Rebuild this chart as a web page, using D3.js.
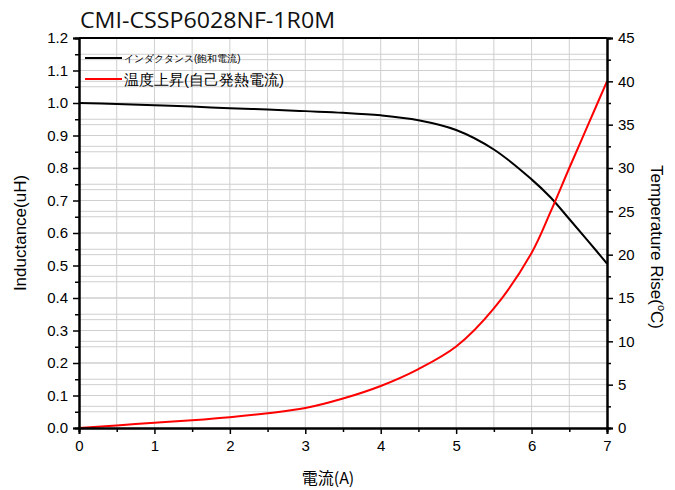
<!DOCTYPE html>
<html>
<head>
<meta charset="utf-8">
<script src="https://cdn.jsdelivr.net/npm/d3@7"></script>
<style>
  body { margin: 0; background: #fff; }
  text { font-family: "Liberation Sans", Arial, sans-serif; }
</style>
</head>
<body>
<svg width="675" height="490"></svg>
<script>
// data
const current = [0, 0.5, 1, 1.5, 2, 2.5, 3, 3.5, 4, 4.5, 5, 5.5, 6, 6.25, 6.5, 6.75, 7];
const inductance = [1.0, 0.997, 0.993, 0.989, 0.984, 0.98, 0.975, 0.97, 0.962, 0.947, 0.917, 0.857, 0.765, 0.71, 0.643, 0.575, 0.506];
const tempRise = [0, 0.3, 0.6, 0.9, 1.25, 1.7, 2.3, 3.4, 4.85, 6.8, 9.4, 13.8, 20.2, 24.9, 30.0, 35.0, 40.0];

const xTicks = [0, 1, 2, 3, 4, 5, 6, 7];
const leftTicks = [0.0, 0.1, 0.2, 0.3, 0.4, 0.5, 0.6, 0.7, 0.8, 0.9, 1.0, 1.1, 1.2];
const rightTicks = [0, 5, 10, 15, 20, 25, 30, 35, 40, 45];

const seriesNames = ['インダクタンス(飽和電流)', '温度上昇(自己発熱電流)'];

const svg = d3.select('svg');
const L = 79, R = 607, T = 38, B = 428;

// scales
const x = d3.scaleLinear().domain([0, 7]).range([L, R]);
const yL = d3.scaleLinear().domain([0, 1.2]).range([B, T]);
const yR = d3.scaleLinear().domain([0, 45]).range([B, T]);

// grid lines (both y axes get their own grid, majors + minors)
const grid = svg.append('g').attr('stroke', '#cfcfcf').attr('stroke-width', 1);
grid.selectAll('.gx').data(d3.range(0.5, 7, 0.5))
  .enter().append('line')
  .attr('x1', d => x(d)).attr('x2', d => x(d))
  .attr('y1', T).attr('y2', B);
grid.selectAll('.gl').data(d3.range(1, 24).map(i => i * 0.05))
  .enter().append('line')
  .attr('x1', L).attr('x2', R)
  .attr('y1', d => yL(d)).attr('y2', d => yL(d));
grid.selectAll('.gr').data(d3.range(1, 18).map(i => i * 2.5))
  .enter().append('line')
  .attr('x1', L).attr('x2', R)
  .attr('y1', d => yR(d)).attr('y2', d => yR(d));

// curves
const smooth = d3.curveCatmullRom.alpha(0.5);
const lineL = d3.line().x((d, i) => x(current[i])).y(d => yL(d)).curve(smooth);
const lineR = d3.line().x((d, i) => x(current[i])).y(d => yR(d)).curve(smooth);

svg.append('path').datum(inductance)
  .attr('d', lineL).attr('fill', 'none')
  .attr('stroke', '#000').attr('stroke-width', 2);

svg.append('path').datum(tempRise)
  .attr('d', lineR).attr('fill', 'none')
  .attr('stroke', '#ff0000').attr('stroke-width', 2);

// axes
function styleAxis(g) {
  g.select('.domain').attr('stroke', '#000').attr('stroke-width', 2);
  g.selectAll('.tick line').attr('stroke', '#000').attr('stroke-width', 1.5);
  g.selectAll('.tick text').attr('font-size', 15).attr('fill', '#000')
    .attr('font-family', '"Liberation Sans", Arial, sans-serif');
}

// minor ticks first
svg.append('g').attr('transform', `translate(0,${B})`)
  .call(d3.axisBottom(x).tickValues(d3.range(0.5, 7, 1)).tickSize(4).tickFormat(''))
  .call(styleAxis);
svg.append('g').attr('transform', `translate(${L},0)`)
  .call(d3.axisLeft(yL).tickValues(d3.range(0, 12).map(i => i * 0.1 + 0.05)).tickSize(4).tickFormat(''))
  .call(styleAxis);
svg.append('g').attr('transform', `translate(${R},0)`)
  .call(d3.axisRight(yR).tickValues(d3.range(0, 9).map(i => i * 5 + 2.5)).tickSize(4).tickFormat(''))
  .call(styleAxis);

svg.append('g').attr('transform', `translate(0,${B})`)
  .call(d3.axisBottom(x).tickValues(xTicks).tickSize(6).tickPadding(6).tickFormat(d3.format('d')))
  .call(styleAxis);
svg.append('g').attr('transform', `translate(${L},0)`)
  .call(d3.axisLeft(yL).tickValues(leftTicks).tickSize(6).tickPadding(5).tickFormat(d3.format('.1f')))
  .call(styleAxis);
svg.append('g').attr('transform', `translate(${R},0)`)
  .call(d3.axisRight(yR).tickValues(rightTicks).tickSize(6).tickPadding(5).tickFormat(d3.format('d')))
  .call(styleAxis);

// top frame line
svg.append('line').attr('x1', L).attr('x2', R).attr('y1', T).attr('y2', T)
  .attr('stroke', '#000').attr('stroke-width', 2);

// title
svg.append('text').attr('x', 80).attr('y', 28)
  .attr('font-size', 21).attr('fill', '#111')
  .attr('textLength', 255).attr('lengthAdjust', 'spacingAndGlyphs')
  .style('font-family', '"Open Sans", sans-serif')
  .text('CMI-CSSP6028NF-1R0M');

// axis titles
svg.append('text').attr('x', 328).attr('y', 484).attr('text-anchor', 'middle')
  .attr('font-size', 16).style('font-family', '"Noto Sans CJK JP", sans-serif')
  .text('電流(A)');

svg.append('text').attr('transform', 'translate(26,233) rotate(-90)')
  .attr('text-anchor', 'middle').attr('font-size', 17).text('Inductance(uH)');

const rt = svg.append('text').attr('transform', 'translate(651,247) rotate(90)')
  .attr('text-anchor', 'middle').attr('font-size', 17);
rt.append('tspan').text('Temperature Rise(');
rt.append('tspan').attr('font-size', 11).attr('dy', -7).text('o');
rt.append('tspan').attr('dy', 7).text('C)');

// legend
const lg = svg.append('g').style('font-family', '"Noto Sans CJK JP", sans-serif');
lg.append('line').attr('x1', 85).attr('x2', 122).attr('y1', 58).attr('y2', 58)
  .attr('stroke', '#000').attr('stroke-width', 2);
lg.append('text').attr('x', 124).attr('y', 62).attr('font-size', 10).text(seriesNames[0]);
lg.append('line').attr('x1', 85).attr('x2', 122).attr('y1', 79).attr('y2', 79)
  .attr('stroke', '#ff0000').attr('stroke-width', 2);
lg.append('text').attr('x', 124).attr('y', 85).attr('font-size', 15).text(seriesNames[1]);
</script>
</body>
</html>
